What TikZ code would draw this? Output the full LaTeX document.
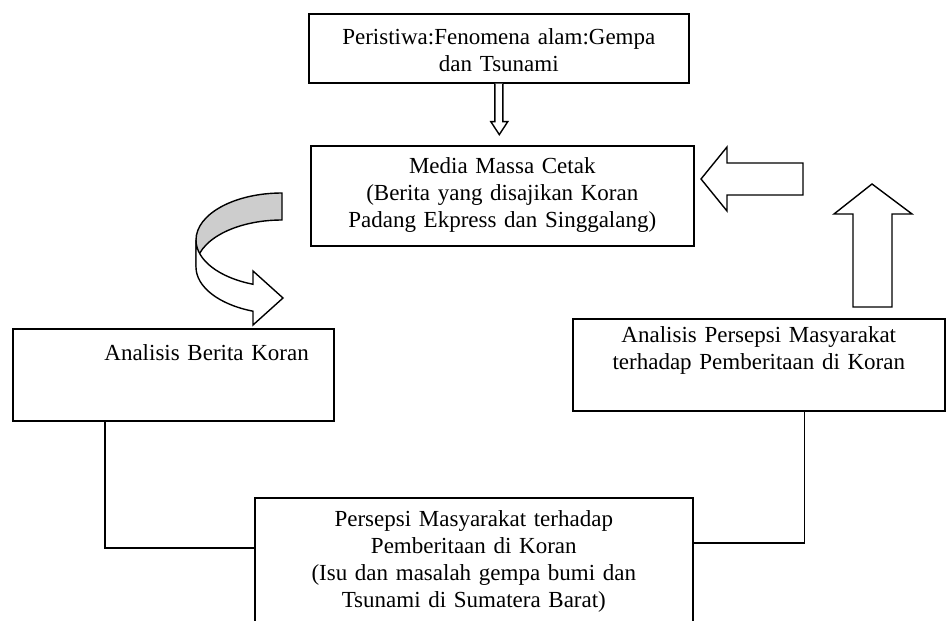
\documentclass[tikz,border=0pt]{standalone}
\usepackage{fontspec}
\setmainfont{Liberation Serif}
\usepackage{tikz}
\usetikzlibrary{positioning, calc}
\definecolor{BandGray}{RGB}{205,205,205}

\begin{document}
\begin{tikzpicture}[x=1pt, y=-1pt,
      kotak/.style={draw, line width=1.6pt, anchor=north west, inner xsep=5pt,
                    inner ysep=0pt, align=center,
                    font=\fontsize{23}{27}\selectfont},
      blok/.style={draw, fill=white, line width=1.4pt, line join=miter},
      garis/.style={draw, line width=1.6pt}
    ]
    \useasboundingbox (0,0) rectangle (946,621);

    \node[kotak, text width=370pt, text height=31pt, text depth=38pt]
          (peristiwa) at (308,13) {Peristiwa:Fenomena alam:Gempa\\dan Tsunami};
    \node[kotak, text width=373pt, text height=28pt, text depth=72pt]
          (media) at (310,145)
          {Media Massa Cetak\\(Berita yang disajikan Koran\\Padang Ekpress dan Singgalang)};
    \node[kotak, inner xsep=25pt, text width=271pt, align=right,
          text height=32pt, text depth=60pt]
          (berita) at (12,328) {Analisis Berita Koran};
    \node[kotak, text width=362pt, text height=24pt, text depth=68pt]
          (analisis) at (572,318)
          {Analisis Persepsi Masyarakat\\terhadap Pemberitaan di Koran};
    \node[kotak, text width=428pt, text height=29pt, text depth=120pt]
          (persepsi) at (254,497)
          {Persepsi Masyarakat terhadap\\Pemberitaan di Koran\\(Isu dan masalah gempa bumi dan\\Tsunami di Sumatera Barat)};

    % small hollow arrow
    \draw[blok] ([xshift=-4pt]peristiwa.south) -- ++(0,38) -- ++(-4,0) -- ++(8.5,13)
          -- ++(8.5,-13) -- ++(-5,0) -- ++(0,-38);

    % block arrows
    \draw[blok] (701,179) -- (727,147) -- (727,163) -- (803,163) -- (803,195)
          -- (727,195) -- (727,211) -- cycle;
    \draw[blok] (872,184) -- (912,214) -- (892,214) -- (892,307) -- (853,307)
          -- (853,214) -- (834,214) -- cycle;

    % curved arrow
    \filldraw[fill=BandGray, line width=1.4pt] (282,193)
          arc[start angle=-90, end angle=-180, x radius=86, y radius=47] -- (196,267)
          arc[start angle=180, end angle=270, x radius=86, y radius=47] -- cycle;
    \filldraw[fill=white, line width=1.4pt, line join=miter] (196,240)
          arc[start angle=180, end angle=109.7, x radius=86, y radius=47]
          -- (253,271) -- (283,298) -- (253,325) -- (253,311.2)
          arc[start angle=109.7, end angle=180, x radius=86, y radius=47] -- cycle;

    \draw[garis] ([xshift=93pt]berita.south west) |- ([yshift=-51pt]persepsi.north west);
    \draw[garis] ([xshift=-141pt]analisis.south east) |- ([yshift=-46pt]persepsi.north east);
  \end{tikzpicture}
\end{document}
